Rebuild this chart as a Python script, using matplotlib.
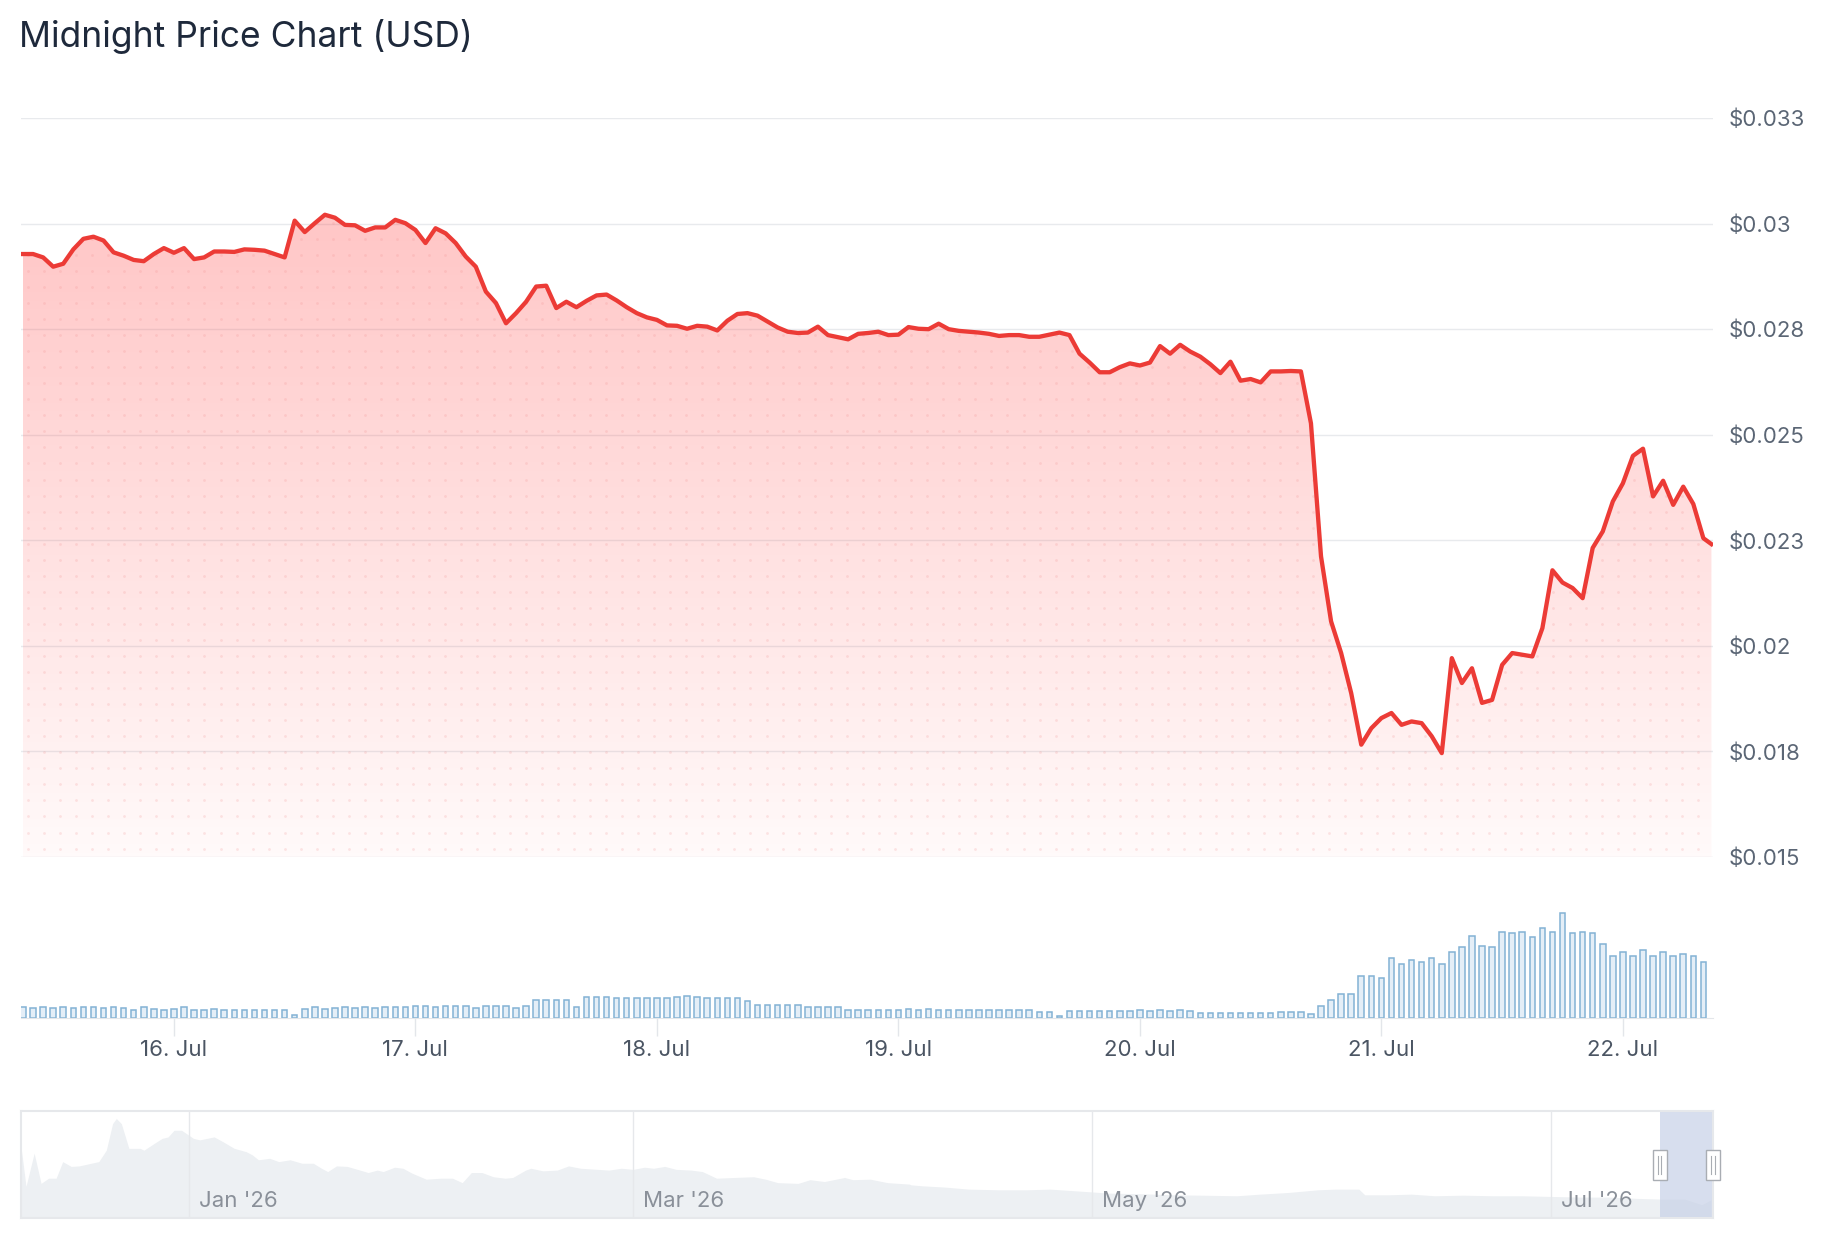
import numpy as np
import pandas as pd
import matplotlib
matplotlib.use('Agg')
import matplotlib.pyplot as plt
import matplotlib.dates as mdates
from matplotlib.patches import Rectangle
from matplotlib.ticker import FuncFormatter

plt.rcParams['font.family'] = ['Inter', 'DejaVu Sans']

# hourly data, 15 Jul 09:00 -> 22 Jul 08:00, plus the live last point
start_time = '2026-07-15 09:00'
last_time = '2026-07-22 08:48'

price = [0.02928, 0.02928, 0.02920, 0.02898, 0.02905, 0.02939, 0.02964, 0.02969, 0.02960, 0.02932,
         0.02924, 0.02914, 0.02911, 0.02928, 0.02942, 0.02931, 0.02942, 0.02916, 0.02920, 0.02934,
         0.02934, 0.02933, 0.02939, 0.02938, 0.02936, 0.02928, 0.02920, 0.03007, 0.02980, 0.03001,
         0.03021, 0.03014, 0.02997, 0.02996, 0.02983, 0.02991, 0.02991, 0.03009, 0.03001, 0.02985,
         0.02954, 0.02989, 0.02977, 0.02954, 0.02922, 0.02898, 0.02839, 0.02812, 0.02764, 0.02788,
         0.02815, 0.02851, 0.02853, 0.02800, 0.02815, 0.02802, 0.02817, 0.02830, 0.02832, 0.02818,
         0.02802, 0.02788, 0.02778, 0.02772, 0.02759, 0.02758, 0.02751, 0.02758, 0.02756, 0.02747,
         0.02770, 0.02786, 0.02788, 0.02782, 0.02768, 0.02754, 0.02744, 0.02741, 0.02742, 0.02756,
         0.02736, 0.02731, 0.02726, 0.02739, 0.02741, 0.02744, 0.02736, 0.02737, 0.02755, 0.02751,
         0.02750, 0.02763, 0.02750, 0.02746, 0.02744, 0.02742, 0.02739, 0.02734, 0.02736, 0.02736,
         0.02732, 0.02732, 0.02737, 0.02742, 0.02736, 0.02692, 0.02671, 0.02648, 0.02648, 0.02660,
         0.02669, 0.02664, 0.02671, 0.02710, 0.02692, 0.02713, 0.02697, 0.02685, 0.02667, 0.02646,
         0.02673, 0.02628, 0.02632, 0.02624, 0.02650, 0.02650, 0.02651, 0.02650, 0.02527, 0.02212,
         0.02058, 0.01983, 0.01888, 0.01766, 0.01805, 0.01829, 0.01841, 0.01813, 0.01821, 0.01817,
         0.01786, 0.01746, 0.01971, 0.01912, 0.01947, 0.01865, 0.01872, 0.01955, 0.01983, 0.01979,
         0.01975, 0.02042, 0.02179, 0.02150, 0.02137, 0.02113, 0.02232, 0.02271, 0.02342, 0.02385,
         0.02450, 0.02467, 0.02354, 0.02391, 0.02334, 0.02377, 0.02336, 0.02255, 0.02241]

# hourly volume (M USD)
volume = [0.92, 0.90, 0.92, 0.90, 0.92, 0.90, 0.92, 0.92, 0.90, 0.92, 0.90,
          0.72, 0.92, 0.74, 0.72, 0.74, 0.92, 0.72, 0.72, 0.74, 0.72, 0.72, 0.70, 0.72, 0.70, 0.72, 0.70, 0.22,
          0.74, 0.92, 0.74, 0.90, 0.92, 0.90, 0.92, 0.90, 0.92, 0.92, 0.92, 1.05, 1.05, 0.92, 1.05, 1.03,
          1.05, 0.90, 1.05, 1.03, 1.05, 0.90,
          1.05, 1.58, 1.58, 1.58, 1.58, 0.95, 1.80, 1.80,
          1.78, 1.75, 1.75, 1.75, 1.75, 1.75, 1.75, 1.78, 1.86, 1.80, 1.75, 1.72, 1.72, 1.70,
          1.49, 1.15, 1.15, 1.15, 1.12, 1.15, 0.95, 0.95, 0.95, 0.95,
          0.72, 0.72, 0.72, 0.72, 0.72, 0.66, 0.80, 0.66, 0.80,
          0.66, 0.66, 0.66, 0.66, 0.66, 0.66, 0.66, 0.66, 0.66, 0.66,
          0.49, 0.49, 0.14,
          0.57, 0.57, 0.57, 0.57, 0.57, 0.57, 0.57,
          0.72, 0.57, 0.72, 0.57, 0.72, 0.57,
          0.40, 0.40, 0.42, 0.40, 0.42, 0.40, 0.45, 0.45,
          0.52, 0.52, 0.52, 0.37, 1.03, 1.58, 2.09, 2.09, 3.64, 3.64,
          3.47, 5.19, 4.64, 5.01, 4.84, 5.19, 4.64, 5.70, 6.05, 7.05,
          6.22, 6.05, 7.42, 7.25, 7.42, 6.91, 7.74, 7.42, 8.97, 7.25,
          7.42, 7.25, 6.39, 5.36, 5.70, 5.36, 5.87, 5.36, 5.70, 5.36,
          5.53, 5.36, 4.84]

price_ticks = [0.015, 0.0175, 0.020, 0.0225, 0.025, 0.0275, 0.030, 0.0325]
price_labels = ['$0.015', '$0.018', '$0.02', '$0.023', '$0.025', '$0.028', '$0.03', '$0.033']

# navigator (full history)
nav_dates = ['2025-12-09 16:00', '2025-12-10 08:00', '2025-12-11 10:00', '2025-12-12 08:00', '2025-12-13 08:00',
             '2025-12-14 08:00', '2025-12-15 05:00', '2025-12-16 08:00', '2025-12-17 10:00', '2025-12-19',
             '2025-12-20', '2025-12-21', '2025-12-21 20:00', '2025-12-22 08:00', '2025-12-23', '2025-12-24',
             '2025-12-25 12:00', '2025-12-26', '2025-12-27 08:00', '2025-12-28 10:00', '2025-12-29 05:00',
             '2025-12-30', '2025-12-31', '2026-01-01 14:00', '2026-01-02 10:00', '2026-01-04 08:00',
             '2026-01-05 12:00', '2026-01-07', '2026-01-08 14:00', '2026-01-09 10:00', '2026-01-10 05:00',
             '2026-01-11 17:00', '2026-01-12 22:00', '2026-01-14 10:00', '2026-01-16', '2026-01-17 12:00',
             '2026-01-18 14:00', '2026-01-19 10:00', '2026-01-20 14:00', '2026-01-22', '2026-01-23 17:00',
             '2026-01-24 19:00', '2026-01-26', '2026-01-26 19:00', '2026-01-28 07:00', '2026-01-29 10:00',
             '2026-01-30 14:00', '2026-02-01 12:00', '2026-02-03 10:00', '2026-02-05', '2026-02-06 07:00',
             '2026-02-07 12:00', '2026-02-08 22:00', '2026-02-10 10:00', '2026-02-12', '2026-02-13',
             '2026-02-14 17:00', '2026-02-15 10:00', '2026-02-17', '2026-02-18 22:00', '2026-02-20 10:00',
             '2026-02-22', '2026-02-24 07:00', '2026-02-25 19:00', '2026-02-27 10:00', '2026-03-01',
             '2026-03-02 12:00', '2026-03-03 17:00', '2026-03-05 05:00', '2026-03-06 17:00', '2026-03-08 17:00',
             '2026-03-10 05:00', '2026-03-12 02:00', '2026-03-14 10:00', '2026-03-17', '2026-03-18 14:00',
             '2026-03-20 05:00', '2026-03-22 22:00', '2026-03-24 12:00', '2026-03-26 10:00', '2026-03-29 02:00',
             '2026-03-30 05:00', '2026-04-01 12:00', '2026-04-03 19:00', '2026-04-06 17:00', '2026-04-06 22:00',
             '2026-04-08 10:00', '2026-04-11 12:00', '2026-04-14 14:00', '2026-04-18 12:00', '2026-04-22 07:00',
             '2026-04-25 10:00', '2026-04-30 02:00', '2026-05-03 05:00', '2026-05-07 19:00', '2026-05-11 17:00',
             '2026-05-15 12:00', '2026-05-20 05:00', '2026-05-23 07:00', '2026-05-27 02:00', '2026-05-31',
             '2026-06-02 07:00', '2026-06-05 10:00', '2026-06-06 05:00', '2026-06-09 07:00', '2026-06-12 10:00',
             '2026-06-15 12:00', '2026-06-19 07:00', '2026-06-23 05:00', '2026-06-27 02:00', '2026-06-30 22:00',
             '2026-07-04 19:00', '2026-07-08 17:00', '2026-07-12 12:00', '2026-07-15 14:00', '2026-07-18 17:00',
             '2026-07-21', '2026-07-22 05:00']
nav_price = [0.097, 0.043, 0.088, 0.047, 0.054, 0.054, 0.0765, 0.070, 0.0707, 0.0743,
             0.0765, 0.092, 0.128, 0.135, 0.128, 0.0945, 0.0945, 0.092, 0.101, 0.108,
             0.110, 0.119, 0.119, 0.108, 0.106, 0.110, 0.1035, 0.0945, 0.090, 0.0855,
             0.079, 0.081, 0.0765, 0.079, 0.0743, 0.0743, 0.0675, 0.063, 0.0707, 0.070,
             0.065, 0.0617, 0.065, 0.063, 0.0689, 0.0675, 0.061, 0.0527, 0.054, 0.054,
             0.048, 0.0617, 0.0617, 0.056, 0.054, 0.055, 0.065, 0.0675, 0.064, 0.065,
             0.0707, 0.0675, 0.066, 0.065, 0.0675, 0.066, 0.0689, 0.0675, 0.070, 0.066,
             0.065, 0.063, 0.054, 0.055, 0.056, 0.0527, 0.048, 0.047, 0.052, 0.0495,
             0.055, 0.052, 0.0527, 0.048, 0.046, 0.045, 0.0437, 0.0419, 0.0392, 0.0383,
             0.0383, 0.0392, 0.036, 0.0338, 0.0329, 0.0315, 0.031, 0.0302, 0.0324, 0.0347,
             0.0383, 0.0392, 0.0392, 0.0315, 0.0315, 0.0324, 0.0302, 0.031, 0.0302, 0.0302,
             0.0293, 0.0284, 0.0284, 0.0266, 0.0257, 0.0257, 0.018, 0.0248]

month_ticks = ['2026-01-01', '2026-03-01', '2026-05-01', '2026-07-01']
month_labels = ["Jan '26", "Mar '26", "May '26", "Jul '26"]

times = pd.date_range(start_time, periods=len(volume), freq='h')
tx = mdates.date2num(list(times) + [pd.Timestamp(last_time)])
bx = mdates.date2num(times)
hour = 1 / 24

fig = plt.figure(figsize=(18.24, 12.48), dpi=100)
ax = fig.add_axes([0.01151, 0.3133, 0.9276, 0.5921])
axv = fig.add_axes([0.01151, 0.1843, 0.9276, 0.1186], sharex=ax)
axn = fig.add_axes([0.01151, 0.024, 0.9276, 0.0857])

fig.text(0.0105, 1 - 36 / 1248, 'Midnight Price Chart (USD)', fontsize=25.5,
         color='#1e293b', va='center', ha='left')

# price area with vertical gradient
ymin, ymax = price_ticks[0], price_ticks[-1]
poly = ax.fill_between(tx, price, ymin, color='none', lw=0)
grad = np.zeros((256, 1, 4))
grad[..., 0] = 1.0
grad[..., 1] = 0.31
grad[..., 2] = 0.31
grad[:, 0, 3] = np.linspace(0.37, 0.03, 256)
img = ax.imshow(grad, aspect='auto', extent=[tx[0], tx[-1], ymin, ymax],
                origin='upper', zorder=1, interpolation='bilinear')
img.set_clip_path(poly.get_paths()[0], transform=ax.transData)

# faint dot pattern inside the area
gx, gy = np.meshgrid(np.arange(tx[0] + 0.02, tx[-1], 0.0665),
                     np.arange(ymin + 0.0002, ymax, 0.00038))
dots = ax.scatter(gx.ravel(), gy.ravel(), s=4, color='#f08a8a', alpha=0.2, lw=0, zorder=1.5)
dots.set_clip_path(poly.get_paths()[0], transform=ax.transData)

ax.plot(tx, price, color='#ec3b36', lw=3.1, solid_joinstyle='round', zorder=3)

ax.set_ylim(ymin, ymax)
ax.set_yticks(price_ticks)
ax.set_yticklabels(price_labels)
ax.yaxis.tick_right()
ax.grid(axis='y', color='#e8eaed', lw=1)
ax.set_axisbelow(True)
ax.tick_params(axis='y', length=0, pad=11.5, labelsize=16, labelcolor='#5b6675')
ax.tick_params(axis='x', length=0, labelbottom=False)
for s in ax.spines.values():
    s.set_visible(False)

# volume
axv.bar(bx, volume, width=0.55 * hour, facecolor='#e4eef7', edgecolor='#83b2d4', lw=1.1)
axv.set_ylim(0, 12.7)
axv.set_yticks([])
for s in ['top', 'left', 'right']:
    axv.spines[s].set_visible(False)
axv.spines['bottom'].set_color('#e3e6ea')
axv.xaxis.set_major_locator(mdates.DayLocator())
axv.xaxis.set_major_formatter(FuncFormatter(lambda v, p: f"{mdates.num2date(v).day}. Jul"))
axv.tick_params(axis='x', length=13, color='#e3e6ea', width=1, pad=3,
                labelsize=16, labelcolor='#4b5563')
axv.set_xlim(tx[0] - 0.2 * hour, tx[-1] + 0.15 * hour)

# navigator
nx = mdates.date2num(pd.to_datetime(nav_dates, format='ISO8601'))
axn.fill_between(nx, nav_price, 0, color='#edf0f3', lw=0)
axn.set_ylim(0, 0.145)
axn.set_xlim(nx[0], tx[-1] + 0.1)
mt = mdates.date2num(pd.to_datetime(month_ticks))
axn.set_xticks(mt)
axn.set_xticklabels([])
axn.tick_params(length=0)
axn.set_yticks([])
axn.grid(axis='x', color='#e6e8eb', lw=1)
for s in axn.spines.values():
    s.set_color('#e6e8eb')
    s.set_linewidth(1.5)
for m, lab in zip(mt, month_labels):
    axn.text(m + 1.3, 0.16, lab, transform=axn.get_xaxis_transform(), fontsize=16,
             color='#8a9099', va='center', ha='left')

axn.axvspan(tx[0], tx[-1] + 0.1, color='#c7d1e7', alpha=0.7, lw=0)

# navigator handles
fig.canvas.draw()
inv = fig.transFigure.inverted()
hw, hh = 14 / 1824, 30 / 1248
for xe in [tx[0], tx[-1] + 0.1]:
    xf, yf = inv.transform(axn.transData.transform((xe, 0.0725)))
    fig.add_artist(Rectangle((xf - hw / 2, yf - hh / 2), hw, hh, transform=fig.transFigure,
                             facecolor='white', edgecolor='#a9adb3', lw=1, zorder=5))
    for dx in (-0.0009, 0.0009):
        fig.add_artist(plt.Line2D([xf + dx, xf + dx], [yf - hh * 0.3, yf + hh * 0.3],
                                  transform=fig.transFigure, color='#a9adb3', lw=0.8, zorder=6))

fig.savefig('out.png', dpi=100)
